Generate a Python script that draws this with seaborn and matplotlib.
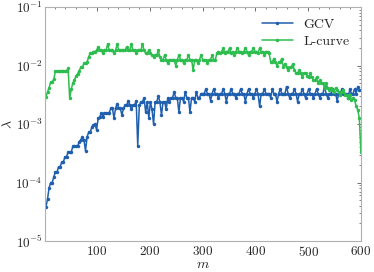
import numpy as np
import pandas as pd
import matplotlib
matplotlib.use("Agg")
import matplotlib.pyplot as plt
import seaborn as sns
from matplotlib.ticker import MultipleLocator, LogLocator, NullFormatter

# DATA (log10 of lambda, one value every 3rd m)
m = np.arange(3, 601, 3)

gcv_log = [
    -4.42, -4.28, -4.09, -4.00, -4.00, -3.90, -3.82, -3.82, -3.73, -3.73,
    -3.65, -3.65, -3.56, -3.56, -3.48, -3.48, -3.48, -3.38, -3.38, -3.38,
    -3.38, -3.30, -3.27, -3.22, -3.27, -3.46, -3.22, -3.14, -3.14, -3.05,
    -3.02, -3.00, -3.10, -2.90, -2.88, -2.81, -2.88, -2.81, -2.81, -2.81,
    -2.81, -2.73, -2.73, -2.90, -2.73, -2.65, -2.73, -2.73, -2.85, -2.73,
    -2.68, -2.68, -2.60, -2.68, -2.75, -2.68, -2.68, -2.60, -3.37, -2.68,
    -2.62, -2.62, -2.55, -2.80, -2.62, -2.90, -2.62, -2.75, -3.00, -2.62,
    -2.62, -2.52, -2.62, -2.85, -2.62, -2.62, -2.75, -2.55, -2.62, -2.55,
    -2.55, -2.45, -2.55, -2.55, -2.80, -2.55, -2.55, -2.62, -2.45, -2.55,
    -2.55, -2.80, -2.55, -2.55, -2.62, -2.45, -2.55, -2.55, -2.48, -2.48,
    -2.48, -2.40, -2.48, -2.48, -2.60, -2.48, -2.40, -2.48, -2.48, -2.55,
    -2.48, -2.48, -2.40, -2.48, -2.62, -2.48, -2.48, -2.40, -2.48, -2.48,
    -2.55, -2.48, -2.48, -2.40, -2.48, -2.48, -2.62, -2.48, -2.40, -2.48,
    -2.48, -2.55, -2.48, -2.40, -2.48, -2.70, -2.48, -2.48, -2.40, -2.48,
    -2.48, -2.48, -2.55, -2.40, -2.48, -2.48, -2.62, -2.48, -2.40, -2.48,
    -2.48, -2.48, -2.36, -2.48, -2.55, -2.48, -2.48, -2.40, -2.48, -2.62,
    -2.48, -2.48, -2.40, -2.48, -2.55, -2.48, -2.40, -2.48, -2.48, -2.55,
    -2.48, -2.40, -2.48, -2.55, -2.48, -2.48, -2.36, -2.48, -2.55, -2.48,
    -2.48, -2.40, -2.48, -2.48, -2.60, -2.48, -2.48, -2.40, -2.48, -2.48,
    -2.48, -2.55, -2.40, -2.48, -2.48, -2.40, -2.48, -2.36, -2.42, -2.42,
]

lcurve_log = [
    -2.54, -2.45, -2.38, -2.28, -2.28, -2.23, -2.09, -2.09, -2.09, -2.09,
    -2.09, -2.09, -2.09, -2.09, -2.05, -2.56, -2.40, -2.30, -2.25, -2.18,
    -2.14, -2.09, -2.03, -2.03, -1.96, -1.96, -1.94, -1.85, -1.79, -1.79,
    -1.76, -1.76, -1.74, -1.68, -1.74, -1.74, -1.79, -1.74, -1.74, -1.63,
    -1.74, -1.74, -1.74, -1.79, -1.74, -1.63, -1.74, -1.74, -1.74, -1.74,
    -1.74, -1.68, -1.74, -1.74, -1.63, -1.74, -1.74, -1.79, -1.74, -1.74,
    -1.74, -1.63, -1.74, -1.79, -1.79, -1.74, -1.79, -1.82, -1.85, -1.82,
    -1.82, -1.74, -1.85, -1.90, -1.90, -1.82, -1.90, -1.96, -1.90, -1.90,
    -1.90, -1.90, -2.00, -1.90, -1.82, -1.90, -1.90, -1.96, -1.90, -1.90,
    -1.82, -1.90, -1.90, -2.08, -1.90, -1.90, -1.96, -1.90, -1.82, -1.90,
    -1.90, -1.90, -1.96, -1.90, -1.90, -1.82, -1.90, -1.90, -1.79, -1.76,
    -1.79, -1.76, -1.70, -1.79, -1.76, -1.76, -1.70, -1.79, -1.76, -1.82,
    -1.76, -1.70, -1.76, -1.76, -1.79, -1.76, -1.70, -1.76, -1.82, -1.76,
    -1.76, -1.70, -1.76, -1.76, -1.79, -1.70, -1.76, -1.76, -1.82, -1.76,
    -1.76, -1.79, -1.94, -1.94, -1.88, -1.94, -2.00, -1.94, -1.94, -1.88,
    -2.03, -1.97, -2.03, -2.08, -2.03, -2.03, -1.97, -2.08, -2.13, -2.13,
    -2.08, -2.13, -2.20, -2.13, -2.13, -2.18, -2.20, -2.13, -2.20, -2.25,
    -2.25, -2.20, -2.30, -2.25, -2.30, -2.30, -2.38, -2.30, -2.38, -2.42,
    -2.38, -2.42, -2.45, -2.38, -2.42, -2.45, -2.50, -2.45, -2.42, -2.50,
    -2.50, -2.55, -2.50, -2.59, -2.55, -2.59, -2.70, -2.76, -2.90, -3.48,
]

df = pd.DataFrame({
    "m": np.concatenate([m, m]),
    "lam": 10.0 ** np.array(gcv_log + lcurve_log),
    "method": ["GCV"] * len(m) + ["L-curve"] * len(m),
})

# STYLE
sns.set_style("white")
plt.rcParams["font.family"] = ["cmr10", "DejaVu Serif"]
plt.rcParams["mathtext.fontset"] = "cm"
plt.rcParams["axes.formatter.use_mathtext"] = True
plt.rcParams["axes.unicode_minus"] = False

colors = {"GCV": "#1f5fae", "L-curve": "#2dbd4f"}

fig = plt.figure(figsize=(3.74, 2.72), dpi=100)
ax = fig.add_axes([0.120, 0.114, 0.845, 0.860])

sns.lineplot(data=df, x="m", y="lam", hue="method", palette=colors,
             marker="o", markersize=2.5, markeredgewidth=0, linewidth=1.1,
             ax=ax)

ax.set_yscale("log")
ax.set_xlim(1, 600)
ax.set_ylim(1e-5, 1e-1)
ax.xaxis.set_major_locator(MultipleLocator(100))
ax.xaxis.set_minor_locator(MultipleLocator(20))
ax.yaxis.set_major_locator(LogLocator(base=10, numticks=10))
ax.yaxis.set_minor_locator(LogLocator(base=10, subs=np.arange(2, 10), numticks=20))
ax.yaxis.set_minor_formatter(NullFormatter())

for sp in ax.spines.values():
    sp.set_color("#b0b0b0")
ax.tick_params(which="both", direction="in", top=True, right=True,
               color="#555555", labelsize=9.5, pad=3)
ax.tick_params(axis="y", which="both", pad=1.5)
ax.tick_params(which="major", length=3, width=0.6)
ax.tick_params(which="minor", length=1.5, width=0.5)

ax.set_xlabel("$m$", fontsize=10)
ax.set_ylabel("$\\lambda$", fontsize=10, va="center", ha="center")
ax.xaxis.set_label_coords(0.5, -0.075)
ax.yaxis.set_label_coords(-0.115, 0.5)

ax.legend(frameon=False, loc="upper right", fontsize=10, handlelength=2.2,
          borderaxespad=0.4, labelspacing=0.3)

fig.savefig("out.png", dpi=100)
